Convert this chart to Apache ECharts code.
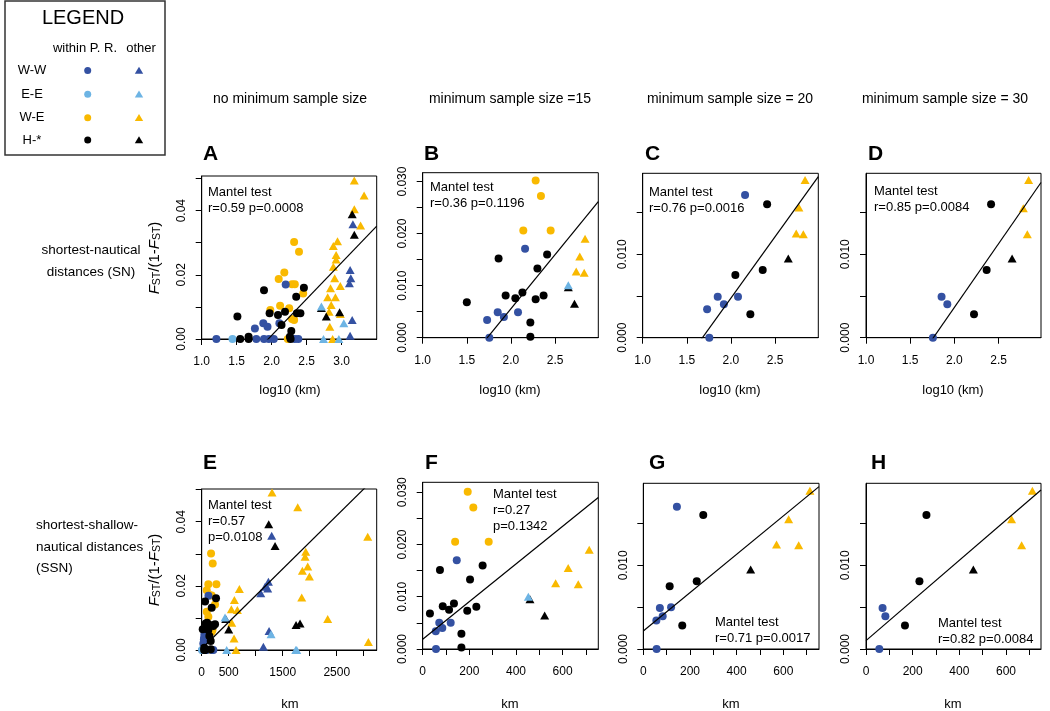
<!DOCTYPE html>
<html><head><meta charset="utf-8">
<script src="https://cdn.jsdelivr.net/npm/echarts@6/dist/echarts.min.js"></script>
<style>html,body{margin:0;padding:0;background:#fff}#c{width:1050px;height:711px}</style>
</head><body><div id="c"></div><script>
// ---------------- DATA ----------------
// Panel A: log10(km) vs FST/(1-FST), no minimum sample size (shortest-nautical)
const A_blueC   = [[1.21,0],[1.78,0],[1.89,0],[1.96,0],[2.03,0],[2.33,0],[2.38,0],[1.76,0.0033],[1.88,0.0049],[1.94,0.0038],[2.11,0.0049],[2.2,0.0170]];
const A_lightC  = [[1.44,0]];
const A_yelC    = [[2.32,0.0302],[2.39,0.0272],[2.18,0.0207],[2.10,0.0187],[2.29,0.0171],[2.33,0.0171],[2.12,0.0104],[1.98,0.0090],[2.25,0.0096],[2.45,0.0142],[2.29,0.0062],[2.32,0.0059],[2.23,0]];
const A_blkC    = [[1.55,0],[1.67,0],[1.67,0.0007],[2.27,0],[1.51,0.0070],[1.89,0.0152],[1.97,0.0080],[2.09,0.0075],[2.14,0.0044],[2.19,0.0085],[2.35,0.0132],[2.46,0.0160],[2.36,0.0080],[2.41,0.0080],[2.28,0.0025],[2.26,0.0007]];
const A_yelT    = [[3.18,0.0494],[3.32,0.0447],[3.18,0.0404],[3.27,0.0354],[2.94,0.0305],[2.88,0.0290],[2.92,0.0262],[2.92,0.0248],[2.88,0.0225],[2.90,0.0189],[2.98,0.0165],[2.84,0.0158],[2.91,0.0130],[2.80,0.0130],[2.85,0.0106],[2.82,0.0085],[2.98,0.0078],[2.83,0.0038],[2.87,0]];
const A_blueT   = [[3.16,0.0358],[3.12,0.0215],[3.13,0.0189],[3.11,0.0174],[3.15,0.0059],[3.12,0.0010]];
const A_blkT    = [[3.15,0.0389],[3.18,0.0325],[2.78,0.0070],[2.97,0.0083],[2.71,0.0097]];
const A_lightT  = [[2.71,0.0101],[3.03,0.0049],[2.74,0],[2.96,0]];
const A_fit     = [-0.04427, 0.0227];   // intercept, slope

// Panel B: minimum sample size = 15
const B_blueC  = [[2.16,0.0171],[1.73,0.0034],[1.85,0.0049],[1.92,0.0040],[2.08,0.0049],[1.755,0]];
const B_yelC   = [[2.28,0.0302],[2.34,0.0272],[2.14,0.0206],[2.45,0.0206]];
const B_blkC   = [[1.50,0.0068],[1.86,0.0152],[1.94,0.0081],[2.05,0.0076],[2.13,0.0087],[2.30,0.0133],[2.28,0.0074],[2.37,0.0081],[2.41,0.0160],[2.22,0.0029],[2.22,0.0002]];
const B_yelT   = [[2.84,0.0190],[2.78,0.0156],[2.74,0.0127],[2.83,0.0125]];
const B_blkT   = [[2.65,0.0097],[2.72,0.0065]];
const B_lightT = [[2.65,0.0101]];
const B_fit    = [-0.03601, 0.02079];

// Panel C: minimum sample size = 20
const C_blueC = [[2.16,0.0171],[1.73,0.0034],[1.85,0.0049],[1.92,0.0040],[2.08,0.0049],[1.755,0]];
const C_blkC  = [[2.41,0.0160],[2.05,0.0075],[2.36,0.0081],[2.22,0.0028]];
const C_yelT  = [[2.84,0.0189],[2.77,0.0156],[2.74,0.0125],[2.82,0.0124]];
const C_blkT  = [[2.65,0.0095]];
const C_fit   = [-0.02467, 0.01471];

// Panel D: minimum sample size = 30
const D_blueC = [[1.855,0.0049],[1.92,0.0040],[1.757,0]];
const D_blkC  = [[2.415,0.0160],[2.365,0.0081],[2.222,0.0028]];
const D_yelT  = [[2.84,0.0189],[2.78,0.0155],[2.825,0.0124]];
const D_blkT  = [[2.653,0.0095]];
const D_fit   = [-0.02691, 0.01527];

// Panel E: km vs FST/(1-FST), no minimum sample size (shortest-shallow-nautical)
const E_blueC  = [[10,0],[60,0],[75,0],[95,0],[190,0],[215,0],[40,0.0033],[50,0.0049],[45,0.0038],[70,0.0049],[125,0.0169],[30,0.0020]];
const E_lightC = [[8,0]];
const E_yelC   = [[173,0.0301],[204,0.0270],[123,0.0205],[272,0.0205],[93,0.0186],[154,0.0171],[185,0.0170],[93,0.0119],[123,0.0104],[247,0.0142],[185,0.0057],[200,0.0062],[170,0]];
const E_blkC   = [[62,0.0151],[265,0.0161],[185,0.0132],[19,0.0065],[74,0.0083],[154,0.0078],[247,0.0080],[123,0.0062],[142,0.0044],[167,0.0028],[167,0.0002],[45,0],[60,0],[215,0.0075],[100,0.0085],[48,0.0007]];
const E_yelT   = [[1302,0.0491],[1778,0.0445],[3074,0.0353],[1926,0.0306],[1914,0.0291],[1963,0.0260],[1864,0.0247],[1994,0.0229],[698,0.0190],[605,0.0156],[549,0.0127],[660,0.0125],[1852,0.0164],[2333,0.0097],[556,0.0085],[599,0.0036],[636,0],[3086,0.0025]];
const E_blueT  = [[1296,0.0356],[1235,0.0213],[1222,0.0192],[1173,0.0197],[1093,0.0177],[1247,0.0059],[1142,0.0010]];
const E_blkT   = [[1241,0.0392],[1358,0.0324],[500,0.0064],[1747,0.0078],[1821,0.0083],[445,0.0097]];
const E_lightT = [[432,0.0101],[1284,0.0049],[463,0],[1741,0],[1760,0]];
const E_fit    = [0.0004, 0.0000166];

// Panel F
const F_blueC  = [[146,0.0170],[56,0.0034],[71,0.0050],[84,0.0040],[120,0.0050],[57,0]];
const F_yelC   = [[193,0.0301],[217,0.0271],[139,0.0205],[283,0.0205]];
const F_blkC   = [[31,0.0068],[74,0.0151],[86,0.0082],[113,0.0075],[134,0.0087],[203,0.0133],[191,0.0073],[230,0.0081],[257,0.0160],[166,0.0029],[166,0.0003]];
const F_yelT   = [[714,0.0190],[624,0.0155],[570,0.0126],[667,0.0124]];
const F_blkT   = [[460,0.0095],[523,0.0064]];
const F_lightT = [[453,0.0100]];
const F_fit    = [0.00185, 0.00003606];

// Panel G
const G_blueC = [[144,0.0170],[56,0.0034],[71,0.0049],[83,0.0039],[119,0.0050],[57,0]];
const G_blkC  = [[257,0.0160],[113,0.0075],[229,0.0081],[167,0.0028]];
const G_yelT  = [[714,0.0189],[623,0.0155],[571,0.0125],[666,0.0124]];
const G_blkT  = [[460,0.0095]];
const G_fit   = [0.00215, 0.00002291];

// Panel H
const H_blueC = [[71,0.0049],[83,0.0039],[57,0]];
const H_blkC  = [[259,0.0160],[229,0.0081],[167,0.0028]];
const H_yelT  = [[713,0.0189],[624,0.0155],[667,0.0124]];
const H_blkT  = [[460,0.0095]];
const H_fit   = [0.001, 0.000024];

// Tick / label values
const logTicksA = [1.0,1.5,2.0,2.5,3.0];
const logTicksB = [1.0,1.5,2.0,2.5];
const kmTicksE  = [0,500,1000,1500,2000,2500,3000];
const kmLabelsE = [0,500,1500,2500];
const kmTicksF  = [0,100,200,300,400,500,600,700];
const kmLabelsF = [0,200,400,600];
const yTicks05  = [0,0.01,0.02,0.03,0.04,0.05];
const yLabels05 = [0,0.02,0.04];
const yTicks03  = [0,0.005,0.01,0.015,0.02,0.025,0.03];
const yLabels03 = [0,0.01,0.02,0.03];
const yTicks02  = [0,0.005,0.01,0.015];
const yLabels02 = [0,0.01];

const panelLetters = ['A','B','C','D','E','F','G','H'];
const mantelTexts = [
  ['Mantel test','r=0.59 p=0.0008'],
  ['Mantel test','r=0.36 p=0.1196'],
  ['Mantel test','r=0.76 p=0.0016'],
  ['Mantel test','r=0.85 p=0.0084'],
  ['Mantel test','r=0.57','p=0.0108'],
  ['Mantel test','r=0.27','p=0.1342'],
  ['Mantel test','r=0.71 p=0.0017'],
  ['Mantel test','r=0.82 p=0.0084']
];
const colHeaders = ['no minimum sample size','minimum sample size =15','minimum sample size = 20','minimum sample size = 30'];

// ---------------- STYLE / LAYOUT ----------------
const FONT = '"Liberation Sans", Arial, Helvetica, sans-serif';
const COL = {blue:'#3451A2', light:'#6DB4E4', yel:'#F9B900', blk:'#000000'};

const panels = [
  {g:{left:201.7,top:176,width:175,height:163}, x:[1,3.5], y:[0,0.0508], xt:logTicksA, xl:logTicksA, xd:1, yt:yTicks05, yl:yLabels05, yd:2,
   circ:[['yel',A_yelC],['blue',A_blueC],['light',A_lightC],['blk',A_blkC]], tri:[['yel',A_yelT],['blue',A_blueT],['blk',A_blkT],['light',A_lightT]], fit:A_fit,
   letter:[203,154], txt:[208,192]},
  {g:{left:422.7,top:172.7,width:175.6,height:165}, x:[1,2.99], y:[0,0.0317], xt:logTicksB, xl:logTicksB, xd:1, yt:yTicks03, yl:yLabels03, yd:3,
   circ:[['yel',B_yelC],['blue',B_blueC],['blk',B_blkC]], tri:[['yel',B_yelT],['blk',B_blkT],['light',B_lightT]], fit:B_fit,
   letter:[424,154], txt:[430,187]},
  {g:{left:642.7,top:173.3,width:175.6,height:164.4}, x:[1,2.99], y:[0,0.0197], xt:logTicksB, xl:logTicksB, xd:1, yt:yTicks02, yl:yLabels02, yd:3,
   circ:[['blue',C_blueC],['blk',C_blkC]], tri:[['yel',C_yelT],['blk',C_blkT]], fit:C_fit,
   letter:[645,154], txt:[649,192]},
  {g:{left:866,top:173.3,width:175,height:164.4}, x:[1,2.98], y:[0,0.0197], xt:logTicksB, xl:logTicksB, xd:1, yt:yTicks02, yl:yLabels02, yd:3,
   circ:[['blue',D_blueC],['blk',D_blkC]], tri:[['yel',D_yelT],['blk',D_blkT]], fit:D_fit,
   letter:[868,154], txt:[874,191]},
  {g:{left:201.7,top:489,width:175,height:161}, x:[0,3240], y:[0,0.0502], xt:kmTicksE, xl:kmLabelsE, xd:0, yt:yTicks05, yl:yLabels05, yd:2,
   circ:[['yel',E_yelC],['blue',E_blueC],['light',E_lightC],['blk',E_blkC]], tri:[['yel',E_yelT],['blue',E_blueT],['blk',E_blkT],['light',E_lightT]], fit:E_fit,
   letter:[203,463], txt:[208,505]},
  {g:{left:422.7,top:482.3,width:175.6,height:166.7}, x:[0,753], y:[0,0.0319], xt:kmTicksF, xl:kmLabelsF, xd:0, yt:yTicks03, yl:yLabels03, yd:3,
   circ:[['yel',F_yelC],['blue',F_blueC],['blk',F_blkC]], tri:[['yel',F_yelT],['blk',F_blkT],['light',F_lightT]], fit:F_fit,
   letter:[425,463], txt:[493,494]},
  {g:{left:643.3,top:483.3,width:175.7,height:165.7}, x:[0,753], y:[0,0.0198], xt:kmTicksF, xl:kmLabelsF, xd:0, yt:yTicks02, yl:yLabels02, yd:3,
   circ:[['blue',G_blueC],['blk',G_blkC]], tri:[['yel',G_yelT],['blk',G_blkT]], fit:G_fit,
   letter:[649,463], txt:[715,622]},
  {g:{left:866,top:483.3,width:175,height:165.7}, x:[0,750], y:[0,0.0198], xt:kmTicksF, xl:kmLabelsF, xd:0, yt:yTicks02, yl:yLabels02, yd:3,
   circ:[['blue',H_blueC],['blk',H_blkC]], tri:[['yel',H_yelT],['blk',H_blkT]], fit:H_fit,
   letter:[871,463], txt:[938,623]}
];

const grid = [], xAxis = [], yAxis = [], series = [], graphic = [];

function txt(x, y, text, size, opts) {
  opts = opts || {};
  return {type:'text', x:x, y:y, silent:true, rotation: opts.rotation || 0,
    style:{text:text, fill:'#000', font:(opts.weight||'normal') + ' ' + size + 'px ' + FONT,
      align:opts.align||'left', verticalAlign:'middle', textAlign:opts.align||'left', textVerticalAlign:'middle', rich:opts.rich}};
}

panels.forEach((p, i) => {
  grid.push(Object.assign({show:true, borderColor:'#000', borderWidth:1, containLabel:false}, p.g));
  xAxis.push({gridIndex:i, type:'value', min:p.x[0], max:p.x[1],
    axisLine:{show:true, onZero:false, lineStyle:{color:'#000', width:1}},
    axisTick:{show:true, length:6, customValues:p.xt, lineStyle:{color:'#000', width:1}},
    axisLabel:{customValues:p.xl, color:'#000', fontSize:12, fontFamily:FONT, margin:17,
      formatter:v => Number(v).toFixed(p.xd)},
    splitLine:{show:false}});
  yAxis.push({gridIndex:i, type:'value', min:p.y[0], max:p.y[1],
    axisLine:{show:true, onZero:false, lineStyle:{color:'#000', width:1}},
    axisTick:{show:true, length:6, customValues:p.yt, lineStyle:{color:'#000', width:1}},
    axisLabel:{customValues:p.yl, color:'#000', fontSize:12, fontFamily:FONT, margin:14, rotate:90,
      formatter:v => Number(v).toFixed(p.yd)},
    splitLine:{show:false}});
  p.circ.forEach(([c, d]) => series.push({type:'scatter', xAxisIndex:i, yAxisIndex:i, data:d, symbol:'circle', symbolSize:8,
    itemStyle:{color:COL[c], opacity:1}, clip:false, silent:true, z:3}));
  p.tri.forEach(([c, d]) => series.push({type:'scatter', xAxisIndex:i, yAxisIndex:i, data:d, symbol:'triangle', symbolSize:[9,8],
    itemStyle:{color:COL[c], opacity:1}, clip:false, silent:true, z:3}));
  const [a, b] = p.fit;
  series.push({type:'line', xAxisIndex:i, yAxisIndex:i, data:[[p.x[0], a + b*p.x[0]],[p.x[1], a + b*p.x[1]]],
    symbol:'none', clip:true, silent:true, lineStyle:{color:'#000', width:1.2}, z:4});
  graphic.push(txt(p.letter[0], p.letter[1], panelLetters[i], 21, {weight:'bold'}));
  mantelTexts[i].forEach((t, k) => graphic.push(txt(p.txt[0], p.txt[1] + k*16, t, 13)));
});

// column headers
[290, 510, 730, 945].forEach((x, k) => graphic.push(txt(x, 99, colHeaders[k], 14, {align:'center'})));
// row labels
graphic.push(txt(91, 250, 'shortest-nautical', 13.5, {align:'center'}));
graphic.push(txt(91, 272, 'distances (SN)', 13.5, {align:'center'}));
graphic.push(txt(36, 525, 'shortest-shallow-', 13.5));
graphic.push(txt(36, 547, 'nautical distances', 13.5));
graphic.push(txt(36, 568, '(SSN)', 13.5));
// x axis titles
[290, 510, 730, 953].forEach(x => graphic.push(txt(x, 390, 'log10 (km)', 13, {align:'center'})));
[290, 510, 731, 953].forEach(x => graphic.push(txt(x, 704, 'km', 13, {align:'center'})));
// y axis titles
const yRich = {i:{fontStyle:'italic', fontSize:15, fontFamily:FONT}, n:{fontSize:15, fontFamily:FONT}, s:{fontSize:10.5, fontFamily:FONT, verticalAlign:'bottom'}};
const yTitle = '{i|F}{s|ST}{n|/(1-}{i|F}{s|ST}{n|)}';
[[155, 258], [155, 570]].forEach(([x, y]) => graphic.push(txt(x, y, yTitle, 15, {align:'center', rotation:Math.PI/2, rich:yRich})));

// legend box
graphic.push({type:'rect', silent:true, shape:{x:5, y:1, width:160, height:154}, style:{fill:'#fff', stroke:'#333', lineWidth:1.5}});
graphic.push(txt(83, 18, 'LEGEND', 20, {align:'center'}));
graphic.push(txt(85, 48, 'within P. R.', 13, {align:'center'}));
graphic.push(txt(141, 48, 'other', 13, {align:'center'}));
const legRows = [['W-W','blue',70.5],['E-E','light',94.3],['W-E','yel',117.7],['H-*','blk',140]];
legRows.forEach(([lab, c, y]) => {
  graphic.push(txt(32, y, lab, 13, {align:'center'}));
  graphic.push({type:'circle', silent:true, shape:{cx:87.7, cy:y, r:3.5}, style:{fill:COL[c]}});
  graphic.push({type:'polygon', silent:true, shape:{points:[[134.8,y+3.3],[143.2,y+3.3],[139,y-3.8]]}, style:{fill:COL[c]}});
});

const chart = echarts.init(document.getElementById('c'), null, {renderer:'canvas'});
chart.setOption({animation:false, backgroundColor:'#fff', grid, xAxis, yAxis, series, graphic});
</script></body></html>
